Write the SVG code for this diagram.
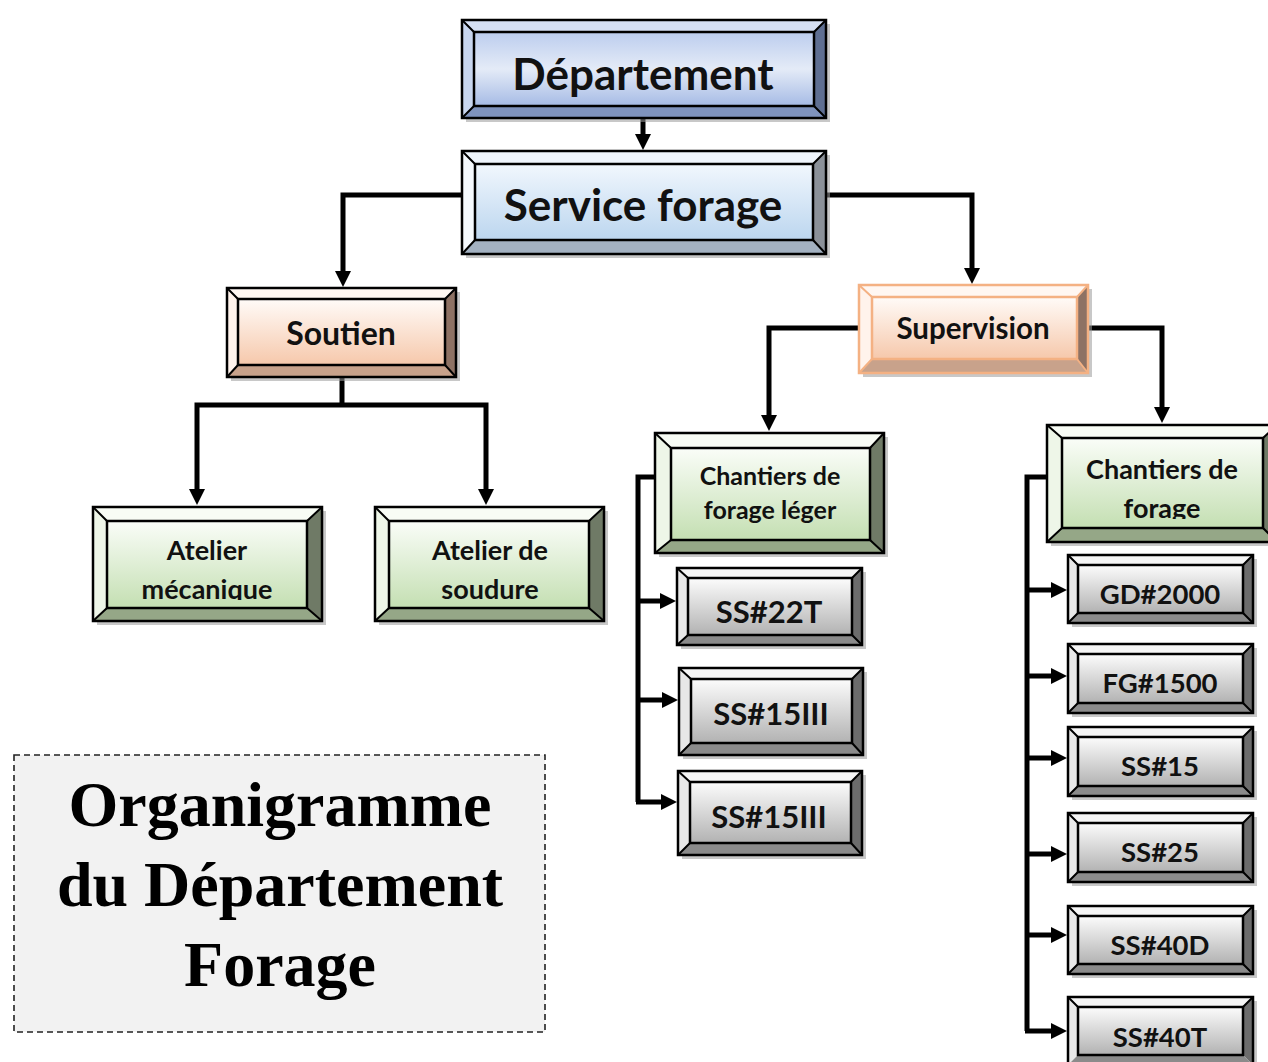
<svg xmlns="http://www.w3.org/2000/svg" width="1268" height="1062" viewBox="0 0 1268 1062">
<defs>
<linearGradient id="gBlue" x1="0" y1="0" x2="0" y2="1"><stop offset="0" stop-color="#bccdee"/><stop offset="0.5" stop-color="#e4ebf7"/><stop offset="1" stop-color="#a6bbe5"/></linearGradient>
<linearGradient id="gLBlue" x1="0" y1="0" x2="0" y2="1"><stop offset="0" stop-color="#f1f7fd"/><stop offset="1" stop-color="#bcd6ef"/></linearGradient>
<linearGradient id="gPeach" x1="0" y1="0" x2="0" y2="1"><stop offset="0" stop-color="#fffbf8"/><stop offset="1" stop-color="#f6c8ab"/></linearGradient>
<linearGradient id="gGreen" x1="0" y1="0" x2="0" y2="1"><stop offset="0" stop-color="#fafdf8"/><stop offset="1" stop-color="#c4dfb2"/></linearGradient>
<linearGradient id="gGray" x1="0" y1="0" x2="0" y2="1"><stop offset="0" stop-color="#fcfcfc"/><stop offset="1" stop-color="#b2b2b2"/></linearGradient>
<marker id="ah" markerUnits="userSpaceOnUse" markerWidth="18" markerHeight="18" refX="1" refY="8" orient="auto" viewBox="0 0 18 16">
<path d="M0,0 L16,8 L0,16 z" fill="#000"/>
</marker>
<clipPath id="c1"><rect x="90" y="500" width="240" height="100"/></clipPath>
<clipPath id="c2"><rect x="370" y="500" width="240" height="100"/></clipPath>
<clipPath id="c3"><rect x="1040" y="420" width="240" height="99"/></clipPath>
</defs>
<style>
.ln{fill:none;stroke:#000;stroke-width:5;marker-end:url(#ah)}
.lp{fill:none;stroke:#000;stroke-width:5}
.sh{fill:#9a9a9a;opacity:.55}
.o{fill:none;stroke:#000;stroke-width:2.5;stroke-linejoin:miter}
.d{stroke:#000;stroke-width:2}
.t{font-family:Lato,"Open Sans","DejaVu Sans",sans-serif;font-weight:700;text-anchor:middle;fill:#111}
.blue .bt{fill:#d6e0f4}.blue .bl{fill:#c8d6ef}.blue .br{fill:#5f6f92}.blue .bb{fill:#7f93bd}.blue .f{fill:url(#gBlue)}
.lblue .bt{fill:#eef4fb}.lblue .bl{fill:#f5f9fd}.lblue .br{fill:#8b9199}.lblue .bb{fill:#a3b1c1}.lblue .f{fill:url(#gLBlue)}
.peach .bt{fill:#fff7f2}.peach .bl{fill:#fff3ec}.peach .br{fill:#8e7264}.peach .bb{fill:#c8a28b}.peach .f{fill:url(#gPeach)}
.green .bt{fill:#f8fcf5}.green .bl{fill:#eef6e8}.green .br{fill:#6f7a66}.green .bb{fill:#95a787}.green .f{fill:url(#gGreen)}
.gray .bt{fill:#f5f5f5}.gray .bl{fill:#e8e8e8}.gray .br{fill:#6c6c6c}.gray .bb{fill:#8b8b8b}.gray .f{fill:url(#gGray)}
.orange .o,.orange .d{stroke:#f4b183}
</style>

<g id="connectors">
<path class="ln" d="M643,118 V135"/>
<path class="ln" d="M462,195 H343 V272"/>
<path class="ln" d="M826,195 H972 V269"/>
<path class="lp" d="M342,377 V405"/>
<path class="ln" d="M342,405 H197 V490"/>
<path class="ln" d="M342,405 H486 V490"/>
<path class="ln" d="M859,328 H769 V416"/>
<path class="ln" d="M1088,328 H1162 V408"/>
<path class="lp" d="M655,477 H638 V802"/>
<path class="ln" d="M636,601 H661"/>
<path class="ln" d="M636,700 H663"/>
<path class="ln" d="M636,802 H662"/>
<path class="lp" d="M1047,477 H1027 V1031"/>
<path class="ln" d="M1025,590 H1052"/>
<path class="ln" d="M1025,676 H1052"/>
<path class="ln" d="M1025,758 H1052"/>
<path class="ln" d="M1025,854 H1052"/>
<path class="ln" d="M1025,935 H1052"/>
<path class="ln" d="M1025,1031 H1052"/>
</g>

<g id="departement" class="blue">
<rect class="sh" x="466" y="24" width="364" height="98"/>
<rect class="bt" x="462" y="20" width="364" height="98"/>
<polygon class="bl" points="462,20 474,32 474,106 462,118"/>
<polygon class="br" points="826,20 826,118 814,106 814,32"/>
<polygon class="bb" points="462,118 826,118 814,106 474,106"/>
<rect class="f" x="474" y="32" width="340" height="74"/>
<rect class="o" x="474" y="32" width="340" height="74"/>
<path class="d" d="M462,20 L474,32 M826,20 L814,32 M462,118 L474,106 M826,118 L814,106"/>
<rect class="o" x="462" y="20" width="364" height="98"/>
<text class="t" x="643" y="90" font-size="44">Département</text>
</g>

<g id="service" class="lblue">
<rect class="sh" x="466" y="155" width="364" height="103"/>
<rect class="bt" x="462" y="151" width="364" height="103"/>
<polygon class="bl" points="462,151 475,164 475,240 462,254"/>
<polygon class="br" points="826,151 826,254 813,240 813,164"/>
<polygon class="bb" points="462,254 826,254 813,240 475,240"/>
<rect class="f" x="475" y="164" width="338" height="76"/>
<rect class="o" x="475" y="164" width="338" height="76"/>
<path class="d" d="M462,151 L475,164 M826,151 L813,164 M462,254 L475,240 M826,254 L813,240"/>
<rect class="o" x="462" y="151" width="364" height="103"/>
<text class="t" x="643" y="221" font-size="44">Service forage</text>
</g>

<g id="soutien" class="peach">
<rect class="sh" x="231" y="292" width="229" height="89"/>
<rect class="bt" x="227" y="288" width="229" height="89"/>
<polygon class="bl" points="227,288 238,299 238,365 227,377"/>
<polygon class="br" points="456,288 456,377 445,365 445,299"/>
<polygon class="bb" points="227,377 456,377 445,365 238,365"/>
<rect class="f" x="238" y="299" width="207" height="66"/>
<rect class="o" x="238" y="299" width="207" height="66"/>
<path class="d" d="M227,288 L238,299 M456,288 L445,299 M227,377 L238,365 M456,377 L445,365"/>
<rect class="o" x="227" y="288" width="229" height="89"/>
<text class="t" x="341" y="345" font-size="32">Soutien</text>
</g>

<g id="supervision" class="peach orange">
<rect class="sh" x="863" y="289" width="229" height="88"/>
<rect class="bt" x="859" y="285" width="229" height="88"/>
<polygon class="bl" points="859,285 872,297 872,359 859,373"/>
<polygon class="br" points="1088,285 1088,373 1077,359 1077,297"/>
<polygon class="bb" points="859,373 1088,373 1077,359 872,359"/>
<rect class="f" x="872" y="297" width="205" height="62"/>
<rect class="o" x="872" y="297" width="205" height="62"/>
<path class="d" d="M859,285 L872,297 M1088,285 L1077,297 M859,373 L872,359 M1088,373 L1077,359"/>
<rect class="o" x="859" y="285" width="229" height="88"/>
<text class="t" x="973" y="339" font-size="29.5">Supervision</text>
</g>

<g id="atelier-mecanique" class="green">
<rect class="sh" x="97" y="511" width="229" height="114"/>
<rect class="bt" x="93" y="507" width="229" height="114"/>
<polygon class="bl" points="93,507 107,521 107,608 93,621"/>
<polygon class="br" points="322,507 322,621 307,608 307,521"/>
<polygon class="bb" points="93,621 322,621 307,608 107,608"/>
<rect class="f" x="107" y="521" width="200" height="87"/>
<rect class="o" x="107" y="521" width="200" height="87"/>
<path class="d" d="M93,507 L107,521 M322,507 L307,521 M93,621 L107,608 M322,621 L307,608"/>
<rect class="o" x="93" y="507" width="229" height="114"/>
<g clip-path="url(#c1)"><text class="t" x="207" y="560" font-size="27">Atelier</text><text class="t" x="207" y="599" font-size="27">mécanique</text></g>
</g>

<g id="atelier-soudure" class="green">
<rect class="sh" x="379" y="511" width="229" height="114"/>
<rect class="bt" x="375" y="507" width="229" height="114"/>
<polygon class="bl" points="375,507 389,521 389,608 375,621"/>
<polygon class="br" points="604,507 604,621 589,608 589,521"/>
<polygon class="bb" points="375,621 604,621 589,608 389,608"/>
<rect class="f" x="389" y="521" width="200" height="87"/>
<rect class="o" x="389" y="521" width="200" height="87"/>
<path class="d" d="M375,507 L389,521 M604,507 L589,521 M375,621 L389,608 M604,621 L589,608"/>
<rect class="o" x="375" y="507" width="229" height="114"/>
<g clip-path="url(#c2)"><text class="t" x="490" y="560" font-size="27">Atelier de</text><text class="t" x="490" y="599" font-size="27">soudure</text></g>
</g>

<g id="chantiers-leger" class="green">
<rect class="sh" x="659" y="437" width="229" height="120"/>
<rect class="bt" x="655" y="433" width="229" height="120"/>
<polygon class="bl" points="655,433 671,448 671,540 655,553"/>
<polygon class="br" points="884,433 884,553 870,540 870,448"/>
<polygon class="bb" points="655,553 884,553 870,540 671,540"/>
<rect class="f" x="671" y="448" width="199" height="92"/>
<rect class="o" x="671" y="448" width="199" height="92"/>
<path class="d" d="M655,433 L671,448 M884,433 L870,448 M655,553 L671,540 M884,553 L870,540"/>
<rect class="o" x="655" y="433" width="229" height="120"/>
<text class="t" x="770" y="485" font-size="25">Chantiers de</text>
<text class="t" x="770" y="519" font-size="25">forage léger</text>
</g>

<g id="ss22t" class="gray">
<rect class="sh" x="681" y="572" width="185" height="77"/>
<rect class="bt" x="677" y="568" width="185" height="77"/>
<polygon class="bl" points="677,568 688,578 688,635 677,645"/>
<polygon class="br" points="862,568 862,645 852,635 852,578"/>
<polygon class="bb" points="677,645 862,645 852,635 688,635"/>
<rect class="f" x="688" y="578" width="164" height="57"/>
<rect class="o" x="688" y="578" width="164" height="57"/>
<path class="d" d="M677,568 L688,578 M862,568 L852,578 M677,645 L688,635 M862,645 L852,635"/>
<rect class="o" x="677" y="568" width="185" height="77"/>
<text class="t" x="769" y="623" font-size="31">SS#22T</text>
</g>

<g id="ss15iii-a" class="gray">
<rect class="sh" x="683" y="672" width="184" height="87"/>
<rect class="bt" x="679" y="668" width="184" height="87"/>
<polygon class="bl" points="679,668 691,679 691,743 679,755"/>
<polygon class="br" points="863,668 863,755 852,743 852,679"/>
<polygon class="bb" points="679,755 863,755 852,743 691,743"/>
<rect class="f" x="691" y="679" width="161" height="64"/>
<rect class="o" x="691" y="679" width="161" height="64"/>
<path class="d" d="M679,668 L691,679 M863,668 L852,679 M679,755 L691,743 M863,755 L852,743"/>
<rect class="o" x="679" y="668" width="184" height="87"/>
<text class="t" x="771" y="725" font-size="31">SS#15III</text>
</g>

<g id="ss15iii-b" class="gray">
<rect class="sh" x="682" y="775" width="184" height="84"/>
<rect class="bt" x="678" y="771" width="184" height="84"/>
<polygon class="bl" points="678,771 690,782 690,843 678,855"/>
<polygon class="br" points="862,771 862,855 851,843 851,782"/>
<polygon class="bb" points="678,855 862,855 851,843 690,843"/>
<rect class="f" x="690" y="782" width="161" height="61"/>
<rect class="o" x="690" y="782" width="161" height="61"/>
<path class="d" d="M678,771 L690,782 M862,771 L851,782 M678,855 L690,843 M862,855 L851,843"/>
<rect class="o" x="678" y="771" width="184" height="84"/>
<text class="t" x="769" y="828" font-size="31">SS#15III</text>
</g>

<g id="chantiers" class="green">
<rect class="sh" x="1051" y="429" width="230" height="117"/>
<rect class="bt" x="1047" y="425" width="230" height="117"/>
<polygon class="bl" points="1047,425 1062,438 1062,528 1047,542"/>
<polygon class="br" points="1277,425 1277,542 1263,528 1263,438"/>
<polygon class="bb" points="1047,542 1277,542 1263,528 1062,528"/>
<rect class="f" x="1062" y="438" width="201" height="90"/>
<rect class="o" x="1062" y="438" width="201" height="90"/>
<path class="d" d="M1047,425 L1062,438 M1277,425 L1263,438 M1047,542 L1062,528 M1277,542 L1263,528"/>
<rect class="o" x="1047" y="425" width="230" height="117"/>
<g clip-path="url(#c3)"><text class="t" x="1162" y="479" font-size="27">Chantiers de</text><text class="t" x="1162" y="518" font-size="27">forage</text></g>
</g>

<g id="gd2000" class="gray">
<rect class="sh" x="1072" y="559" width="185" height="68"/>
<rect class="bt" x="1068" y="555" width="185" height="68"/>
<polygon class="bl" points="1068,555 1078,565 1078,613 1068,623"/>
<polygon class="br" points="1253,555 1253,623 1243,613 1243,565"/>
<polygon class="bb" points="1068,623 1253,623 1243,613 1078,613"/>
<rect class="f" x="1078" y="565" width="165" height="48"/>
<rect class="o" x="1078" y="565" width="165" height="48"/>
<path class="d" d="M1068,555 L1078,565 M1253,555 L1243,565 M1068,623 L1078,613 M1253,623 L1243,613"/>
<rect class="o" x="1068" y="555" width="185" height="68"/>
<text class="t" x="1160" y="604" font-size="27.5">GD#2000</text>
</g>

<g id="fg1500" class="gray">
<rect class="sh" x="1072" y="648" width="185" height="69"/>
<rect class="bt" x="1068" y="644" width="185" height="69"/>
<polygon class="bl" points="1068,644 1078,654 1078,703 1068,713"/>
<polygon class="br" points="1253,644 1253,713 1243,703 1243,654"/>
<polygon class="bb" points="1068,713 1253,713 1243,703 1078,703"/>
<rect class="f" x="1078" y="654" width="165" height="49"/>
<rect class="o" x="1078" y="654" width="165" height="49"/>
<path class="d" d="M1068,644 L1078,654 M1253,644 L1243,654 M1068,713 L1078,703 M1253,713 L1243,703"/>
<rect class="o" x="1068" y="644" width="185" height="69"/>
<text class="t" x="1160" y="693" font-size="27.5">FG#1500</text>
</g>

<g id="ss15" class="gray">
<rect class="sh" x="1072" y="731" width="185" height="69"/>
<rect class="bt" x="1068" y="727" width="185" height="69"/>
<polygon class="bl" points="1068,727 1078,737 1078,786 1068,796"/>
<polygon class="br" points="1253,727 1253,796 1243,786 1243,737"/>
<polygon class="bb" points="1068,796 1253,796 1243,786 1078,786"/>
<rect class="f" x="1078" y="737" width="165" height="49"/>
<rect class="o" x="1078" y="737" width="165" height="49"/>
<path class="d" d="M1068,727 L1078,737 M1253,727 L1243,737 M1068,796 L1078,786 M1253,796 L1243,786"/>
<rect class="o" x="1068" y="727" width="185" height="69"/>
<text class="t" x="1160" y="776" font-size="27.5">SS#15</text>
</g>

<g id="ss25" class="gray">
<rect class="sh" x="1072" y="817" width="185" height="69"/>
<rect class="bt" x="1068" y="813" width="185" height="69"/>
<polygon class="bl" points="1068,813 1078,823 1078,872 1068,882"/>
<polygon class="br" points="1253,813 1253,882 1243,872 1243,823"/>
<polygon class="bb" points="1068,882 1253,882 1243,872 1078,872"/>
<rect class="f" x="1078" y="823" width="165" height="49"/>
<rect class="o" x="1078" y="823" width="165" height="49"/>
<path class="d" d="M1068,813 L1078,823 M1253,813 L1243,823 M1068,882 L1078,872 M1253,882 L1243,872"/>
<rect class="o" x="1068" y="813" width="185" height="69"/>
<text class="t" x="1160" y="862" font-size="27.5">SS#25</text>
</g>

<g id="ss40d" class="gray">
<rect class="sh" x="1072" y="910" width="185" height="68"/>
<rect class="bt" x="1068" y="906" width="185" height="68"/>
<polygon class="bl" points="1068,906 1078,916 1078,964 1068,974"/>
<polygon class="br" points="1253,906 1253,974 1243,964 1243,916"/>
<polygon class="bb" points="1068,974 1253,974 1243,964 1078,964"/>
<rect class="f" x="1078" y="916" width="165" height="48"/>
<rect class="o" x="1078" y="916" width="165" height="48"/>
<path class="d" d="M1068,906 L1078,916 M1253,906 L1243,916 M1068,974 L1078,964 M1253,974 L1243,964"/>
<rect class="o" x="1068" y="906" width="185" height="68"/>
<text class="t" x="1160" y="955" font-size="27.5">SS#40D</text>
</g>

<g id="ss40t" class="gray">
<rect class="sh" x="1072" y="1001" width="185" height="68"/>
<rect class="bt" x="1068" y="997" width="185" height="68"/>
<polygon class="bl" points="1068,997 1078,1007 1078,1055 1068,1065"/>
<polygon class="br" points="1253,997 1253,1065 1243,1055 1243,1007"/>
<polygon class="bb" points="1068,1065 1253,1065 1243,1055 1078,1055"/>
<rect class="f" x="1078" y="1007" width="165" height="48"/>
<rect class="o" x="1078" y="1007" width="165" height="48"/>
<path class="d" d="M1068,997 L1078,1007 M1253,997 L1243,1007"/>
<rect class="o" x="1068" y="997" width="185" height="68"/>
<text class="t" x="1160" y="1047" font-size="27.5">SS#40T</text>
</g>

<g id="title">
<rect x="14" y="755" width="531" height="277" fill="#f2f2f2" stroke="#222" stroke-width="1.6" stroke-dasharray="6,4"/>
<text x="280" y="826" font-family="'Liberation Serif','Times New Roman',serif" font-weight="700" font-size="64" text-anchor="middle" fill="#000">Organigramme</text>
<text x="280" y="906" font-family="'Liberation Serif','Times New Roman',serif" font-weight="700" font-size="64" text-anchor="middle" fill="#000">du Département</text>
<text x="280" y="986" font-family="'Liberation Serif','Times New Roman',serif" font-weight="700" font-size="64" text-anchor="middle" fill="#000">Forage</text>
</g>
</svg>
